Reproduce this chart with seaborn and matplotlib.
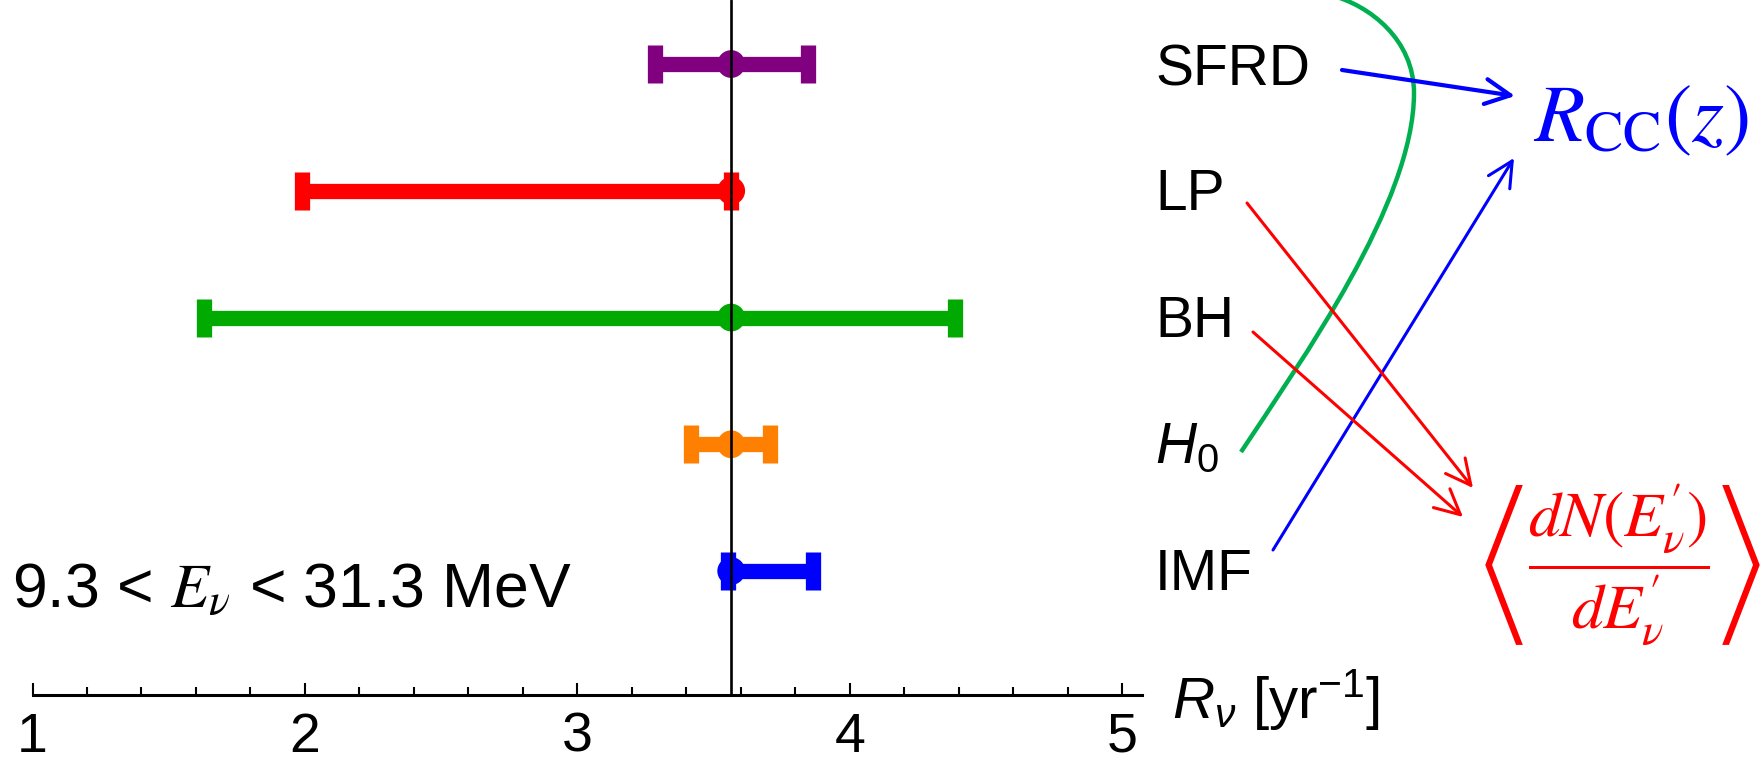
import matplotlib
matplotlib.use("Agg")
import matplotlib.pyplot as plt
from matplotlib.path import Path
from matplotlib.patches import PathPatch
from matplotlib.ticker import MultipleLocator
import seaborn as sns
import pandas as pd

# ---------------- data ----------------
categories = ["SFRD", "LP", "BH", "H0", "IMF"]
central = [3.565, 3.565, 3.565, 3.565, 3.565]
lower = [3.287, 1.989, 1.628, 3.416, 3.555]
upper = [3.847, 3.565, 4.386, 3.709, 3.867]
row_pos = [5, 4, 3, 2, 1]
colors = ["#800080", "#FF0000", "#00AA00", "#FF8000", "#0000FF"]
xticks = [1, 2, 3, 4, 5]
reference_value = 3.565

# ---------------- style ----------------
sns.set_theme(style="white")
plt.rcParams["font.family"] = ["Liberation Sans", "DejaVu Sans"]
plt.rcParams["mathtext.rm"] = "Liberation Sans"
plt.rcParams["mathtext.it"] = "Liberation Sans:italic"
plt.rcParams["mathtext.bf"] = "Liberation Sans:bold"
plt.rcParams["text.color"] = "black"
plt.rcParams["xtick.color"] = "black"
plt.rcParams["axes.labelcolor"] = "black"

W, H = 1761, 764
fig = plt.figure(figsize=(W / 100, H / 100), dpi=100)

x_left_px, x_right_px, axis_px = 32.5, 1142, 695
ax = fig.add_axes([x_left_px / W, (H - axis_px) / H,
                   (x_right_px - x_left_px) / W, axis_px / H])

df = pd.DataFrame({"cat": categories, "x": central, "y": row_pos,
                   "lo": lower, "hi": upper})

for _, r in df.iterrows():
    c = colors[categories.index(r["cat"])]
    ax.errorbar(r["x"], r["y"], xerr=[[r["x"] - r["lo"]], [r["hi"] - r["x"]]],
                fmt="none", ecolor=c, elinewidth=11, capsize=13.5,
                capthick=11, zorder=2)

sns.scatterplot(data=df, x="x", y="y", hue="cat", palette=colors,
                s=400, edgecolor="none", legend=False, ax=ax, zorder=3)

ax.axvline(reference_value, color="black", lw=1.9, zorder=4)

px_per_unit = 272.4
ax.set_xlim(1, 1 + (x_right_px - x_left_px) / px_per_unit)
row_px = 126.75
ax.set_ylim(0.022, 0.022 + axis_px / row_px)

for s in ["left", "right", "top"]:
    ax.spines[s].set_visible(False)
ax.spines["bottom"].set_linewidth(2.2)
ax.spines["bottom"].set_color("black")
ax.set_xticks(xticks)
ax.set_xticklabels([str(t) for t in xticks])
ax.xaxis.set_minor_locator(MultipleLocator(0.2))
ax.tick_params(axis="x", which="major", direction="in", length=8.6, width=1.5,
               color="black", labelcolor="black", labelsize=40, pad=12,
               bottom=True)
ax.tick_params(axis="x", which="minor", direction="in", length=5.8, width=1.5,
               color="black", bottom=True)
ax.set_yticks([])
ax.set_xlabel("")
ax.set_ylabel("")
ax.patch.set_alpha(0)

# ---------------- overlay annotations (pixel coords) ----------------
ov = fig.add_axes([0, 0, 1, 1], zorder=5)
ov.set_xlim(0, W)
ov.set_ylim(H, 0)
ov.axis("off")
ov.patch.set_alpha(0)

ov.text(12, 607, r"9.3 < $E_{\nu}$ < 31.3 MeV", fontsize=45, ha="left",
        va="baseline", math_fontfamily="stix", color="black")
ov.text(1172, 718, r"$R_{\nu}$ [yr$^{-1}$]", fontsize=42, ha="left",
        va="baseline", math_fontfamily="custom", color="black")

label_texts = ["SFRD", "LP", "BH", r"$H_0$", "IMF"]
label_base = [85, 210, 337, 463, 590]
for t, yb in zip(label_texts, label_base):
    ov.text(1155, yb, t, fontsize=41, ha="left", va="baseline",
            math_fontfamily="custom", color="black")

ov.text(1533, 141, r"$R_{\mathrm{CC}}(z)$", fontsize=59, color="#0000FF",
        ha="left", va="baseline", math_fontfamily="stix")
ov.text(1620, 565,
        r"$\left\langle\dfrac{dN(E^{\prime}_{\nu})}{dE^{\prime}_{\nu}}\right\rangle$",
        fontsize=46, color="#FF0000", ha="center", va="center",
        math_fontfamily="stix")

def arrow(x0, y0, x1, y1, color, lw):
    ov.annotate("", xy=(x1, y1), xytext=(x0, y0),
                arrowprops=dict(arrowstyle="->,head_length=0.9,head_width=0.45",
                                color=color, lw=lw, shrinkA=0, shrinkB=0,
                                mutation_scale=20))

arrow(1342, 70, 1515, 96, "#0000FF", 3.0)
arrow(1273, 550, 1514, 158, "#0000FF", 2.2)
arrow(1247, 203, 1473, 488, "#FF0000", 2.2)
arrow(1253, 332, 1463, 517, "#FF0000", 2.2)

verts = [(1241, 452), (1301, 361), (1414, 203), (1414, 93),
         (1414, 40), (1370, 5), (1330, -5)]
codes = [Path.MOVETO, Path.CURVE4, Path.CURVE4, Path.CURVE4,
         Path.CURVE4, Path.CURVE4, Path.CURVE4]
ov.add_patch(PathPatch(Path(verts, codes), fill=False, edgecolor="#00B050",
                       lw=3.2, capstyle="butt"))

fig.savefig("out.png", dpi=100)
